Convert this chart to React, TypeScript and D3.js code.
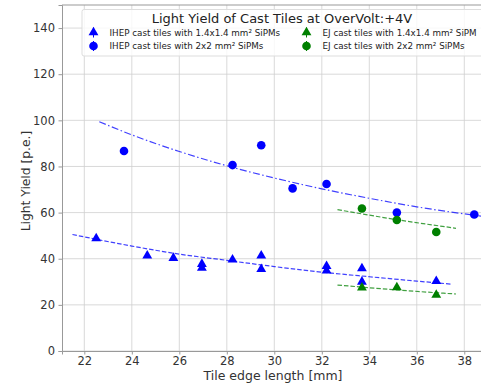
import React, { useRef, useEffect } from 'react';
import * as d3 from 'd3';

// measured points, [tile edge mm, light yield p.e.]
const ihepSmall: [number, number][] = [
  [22.5, 48.8], [24.65, 41.3], [25.75, 40.3], [26.95, 37.7], [26.95, 36],
  [28.24, 39.6], [29.45, 41.3], [29.45, 35.5], [32.2, 36.8], [32.2, 34.8],
  [33.69, 35.8], [33.69, 30], [36.82, 30.3],
];
const ihepLarge: [number, number][] = [
  [23.67, 86.7], [28.24, 80.6], [29.45, 89.2], [30.77, 70.5],
  [32.2, 72.4], [35.16, 60], [38.42, 59.2],
];
const ejSmall: [number, number][] = [[33.69, 27.5], [35.16, 27.6], [36.82, 24.3]];
const ejLarge: [number, number][] = [[33.69, 61.8], [35.16, 56.8], [36.82, 51.6]];

// fit curves
const fitIhepSmall: [number, number][] = [
  [21.5, 50.5], [24, 45.5], [26, 42], [28, 39.3], [30, 36.6], [32, 34.2], [34, 32.2], [36, 30.3], [37.45, 29],
];
const fitIhepLarge: [number, number][] = [
  [22.63, 99.4], [24, 93.7], [26, 86.5], [28, 80.3], [30, 75], [32, 70.3], [34, 66.2], [36, 62.5], [38.9, 58.2],
];
const fitEjSmall: [number, number][] = [[32.66, 28.6], [35, 26.6], [37.65, 24.7]];
const fitEjLarge: [number, number][] = [[32.66, 61.3], [35, 57.2], [37.65, 53.2]];

const xTicks = [22, 24, 26, 28, 30, 32, 34, 36, 38];
const yTicks = [0, 20, 40, 60, 80, 100, 120, 140];

const legendLabels = [
  'IHEP cast tiles with 1.4x1.4 mm² SiPMs',
  'IHEP cast tiles with 2x2 mm² SiPMs',
  'EJ cast tiles with 1.4x1.4 mm² SiPM',
  'EJ cast tiles with 2x2 mm² SiPMs',
];

const BLUE = '#0000ff';
const GREEN = '#008000';

const App = () => {
  const svgRef = useRef<SVGSVGElement>(null);

  useEffect(() => {
    const svg = d3.select(svgRef.current);
    svg.selectAll('*').remove();

    const margin = { top: 5, left: 62, bottom: 351, right: 484 };
    const font = 'DejaVu Sans, sans-serif';

    const x = d3.scaleLinear().domain([21.06, 38.83]).range([margin.left, margin.right]);
    const y = d3.scaleLinear().domain([0, 150]).range([margin.bottom, margin.top]);

    // grid
    const grid = svg.append('g');
    xTicks.forEach(t => {
      grid.append('line')
        .attr('x1', x(t)).attr('x2', x(t))
        .attr('y1', margin.top).attr('y2', margin.bottom)
        .attr('stroke', '#cfcfcf').attr('stroke-width', 0.8);
    });
    yTicks.forEach(t => {
      grid.append('line')
        .attr('x1', margin.left).attr('x2', margin.right)
        .attr('y1', y(t)).attr('y2', y(t))
        .attr('stroke', '#cfcfcf').attr('stroke-width', 0.8);
    });

    // axes
    const xAxis = svg.append('g')
      .attr('transform', `translate(0,${margin.bottom})`)
      .call(d3.axisBottom(x).tickValues(xTicks).tickSize(3.5).tickPadding(2.3));
    const yAxis = svg.append('g')
      .attr('transform', `translate(${margin.left},0)`)
      .call(d3.axisLeft(y).tickValues(yTicks).tickSize(3.5).tickPadding(3.5));
    [xAxis, yAxis].forEach(a => {
      a.select('.domain').attr('stroke', '#999');
      a.selectAll('.tick line').attr('stroke', '#999');
      a.selectAll('.tick text').attr('fill', '#333').style('font-family', font).style('font-size', '11.5px');
    });
    svg.append('line')
      .attr('x1', margin.left).attr('x2', margin.right)
      .attr('y1', margin.top).attr('y2', margin.top)
      .attr('stroke', '#999');

    svg.append('text')
      .attr('x', (margin.left + margin.right) / 2).attr('y', 379.5)
      .attr('text-anchor', 'middle')
      .style('font-family', font).style('font-size', '12.5px').attr('fill', '#333')
      .text('Tile edge length [mm]');
    svg.append('text')
      .attr('transform', `translate(30,181) rotate(-90)`)
      .attr('text-anchor', 'middle')
      .style('font-family', font).style('font-size', '12.3px').attr('fill', '#333')
      .text('Light Yield [p.e.]');

    // fit lines
    const line = d3.line<[number, number]>().x(d => x(d[0])).y(d => y(d[1])).curve(d3.curveMonotoneX);
    const fits: [[number, number][], string, string][] = [
      [fitIhepLarge, BLUE, '7,2.5,1.5,2.5'],
      [fitIhepSmall, BLUE, '4.5,2'],
      [fitEjLarge, GREEN, '4.5,2'],
      [fitEjSmall, GREEN, '4.5,2'],
    ];
    fits.forEach(([pts, c, dash]) => {
      svg.append('path')
        .attr('d', line(pts))
        .attr('fill', 'none').attr('stroke', c).attr('stroke-width', 1.2)
        .attr('stroke-dasharray', dash).attr('opacity', 0.75);
    });

    // markers
    const tri = d3.symbol().type(d3.symbolTriangle).size(42);
    const drawTri = (g: any, cx: number, cy: number, c: string) =>
      g.append('path').attr('d', tri()).attr('transform', `translate(${cx},${cy})`).attr('fill', c);
    const drawDot = (g: any, cx: number, cy: number, c: string) =>
      g.append('circle').attr('cx', cx).attr('cy', cy).attr('r', 4.3).attr('fill', c);

    ihepSmall.forEach(d => drawTri(svg, x(d[0]), y(d[1]), BLUE));
    ihepLarge.forEach(d => drawDot(svg, x(d[0]), y(d[1]), BLUE));
    ejSmall.forEach(d => drawTri(svg, x(d[0]), y(d[1]), GREEN));
    ejLarge.forEach(d => drawDot(svg, x(d[0]), y(d[1]), GREEN));

    // legend
    const lg = svg.append('g');
    lg.append('rect')
      .attr('x', 82).attr('y', 9.5).attr('width', 420).attr('height', 46.5).attr('rx', 2)
      .attr('fill', 'white').attr('fill-opacity', 0.8).attr('stroke', '#ddd');
    lg.append('text')
      .attr('x', 282).attr('y', 23)
      .attr('text-anchor', 'middle')
      .style('font-family', font).style('font-size', '13px').attr('fill', '#222')
      .text('Light Yield of Cast Tiles at OverVolt:+4V');
    const cols = [93.5, 306.5];
    const rows = [32.5, 46];
    legendLabels.forEach((lab, i) => {
      const cx = cols[Math.floor(i / 2)];
      const cy = rows[i % 2];
      const c = i < 2 ? BLUE : GREEN;
      lg.append('line').attr('x1', cx).attr('x2', cx).attr('y1', cy - 5).attr('y2', cy + 5)
        .attr('stroke', c).attr('stroke-width', 1);
      if (i % 2 === 0) drawTri(lg, cx, cy, c); else drawDot(lg, cx, cy, c);
      lg.append('text')
        .attr('x', cx + 16).attr('y', cy + 3.3)
        .style('font-family', font).style('font-size', '8.75px').attr('fill', '#222')
        .text(lab);
    });
  }, []);

  return (
    <svg ref={svgRef} width={481} height={385}
      style={{ position: 'fixed', left: 0, top: 0, background: 'white' }} />
  );
};

export default App;
